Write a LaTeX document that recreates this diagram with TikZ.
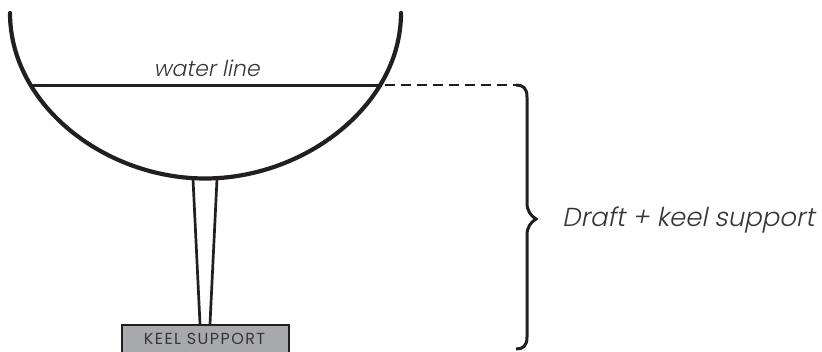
\documentclass[tikz,border=0pt]{standalone}
\usepackage{fontspec}
\usepackage{tikz}
\usetikzlibrary{positioning}
\setmainfont{Poppins Light}
\newfontfamily\slantfont[FakeSlant=0.2]{Poppins Light}
\newfontfamily\capsfont[LetterSpace=9]{Poppins}
\definecolor{ink}{HTML}{231F20}
\definecolor{keelgray}{HTML}{A7A9AC}
\tikzset{
    x=1pt,
    y=-1pt,
    hull/.style={draw=ink, line width=4.2pt, line cap=round},
    thinline/.style={draw=ink, line width=3pt},
    strut/.style={draw=ink, line width=2.7pt},
    brace/.style={draw=ink, line width=3pt},
    leader/.style={draw=ink, line width=2.4pt, dash pattern=on 10pt off 6pt},
    keelbox/.style={draw=ink, fill=keelgray, line width=2.4pt, minimum width=167pt, minimum height=30pt, inner sep=0pt},
    label/.style={inner sep=0pt, text=ink!90},
}

\begin{document}
\begin{tikzpicture}
    \useasboundingbox (0,0) rectangle (822,351);

    \coordinate (hullL) at (10,13);
    \coordinate (hullB) at (205,178.5);
    \coordinate (hullR) at (401,13);
    \coordinate (waterL) at (31,85);
    \coordinate (waterR) at (382,85);
    \coordinate (braceT) at (516,85);
    \coordinate (braceB) at (516,349);
    \coordinate (braceM) at (536,219);
    \coordinate (strutL) at (193,179);
    \coordinate (strutR) at (217,179);

    \node[keelbox] (keel) at (205.5,340) {};
    \node[label, font=\capsfont\fontsize{16}{16}\selectfont] (keeltext) at (204.5,339) {KEEL SUPPORT};
    \node[label, font=\slantfont\fontsize{22}{22}\selectfont] (water) at (206.5,68) {water line};
    \node[label, anchor=west, font=\slantfont\fontsize{26}{26}\selectfont] (draft) at (562,220) {Draft + keel support};

    \draw[strut] (strutL) -- (keel.north -| 200,0);
    \draw[strut] (strutR) -- (keel.north -| 210,0);

    \draw[hull] (hullL) .. controls (10,105) and (105,178.5) .. (hullB)
        .. controls (305,178.5) and (401,105) .. (hullR);
    \draw[thinline] (waterL) -- (waterR);
    \draw[leader] (waterR) ++(3,0) -- (braceT);

    \draw[brace] (braceT) .. controls (523,85) and (527,88) .. (527,97)
        -- (527,203) .. controls (527,211) and (531,216) .. (braceM)
        .. controls (531,222) and (527,227) .. (527,235)
        -- (527,337) .. controls (527,346) and (523,349) .. (braceB);
\end{tikzpicture}
\end{document}
